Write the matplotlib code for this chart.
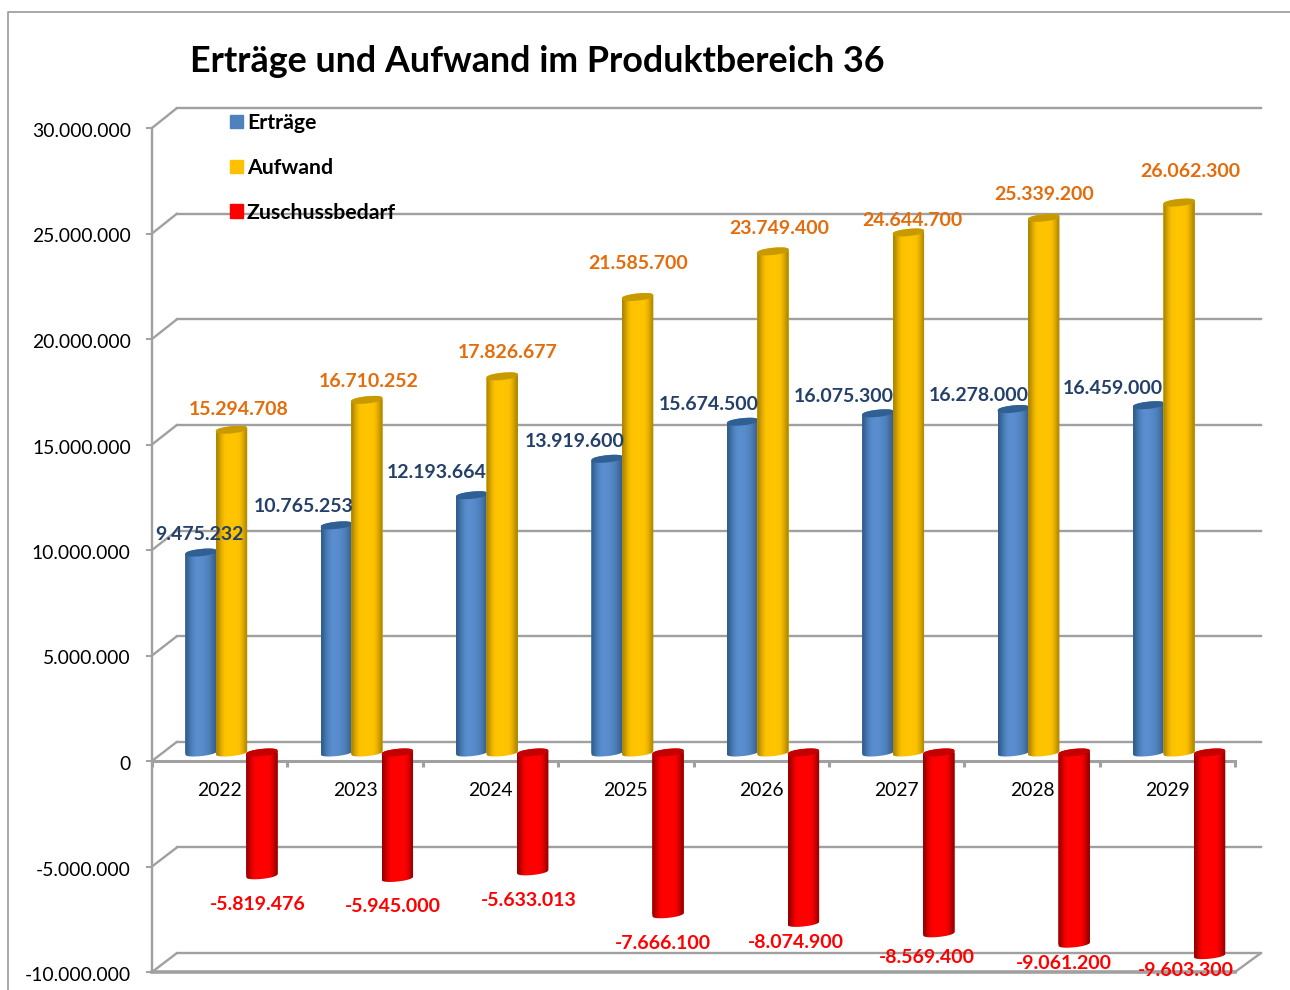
import numpy as np
import matplotlib
matplotlib.use("Agg")
import matplotlib.pyplot as plt
from matplotlib.lines import Line2D
from matplotlib.patches import ConnectionPatch, PathPatch, Patch
from matplotlib.path import Path
from matplotlib.ticker import FuncFormatter
from matplotlib.transforms import ScaledTranslation

years = [2022, 2023, 2024, 2025, 2026, 2027, 2028, 2029]
ertraege = [9475232, 10765253, 12193664, 13919600, 15674500, 16075300, 16278000, 16459000]
aufwand = [15294708, 16710252, 17826677, 21585700, 23749400, 24644700, 25339200, 26062300]
zuschuss = [-5819476, -5945000, -5633013, -7666100, -8074900, -8569400, -9061200, -9603300]
y_ticks = [-10000000, -5000000, 0, 5000000, 10000000, 15000000, 20000000, 25000000, 30000000]

title = "Erträge und Aufwand im Produktbereich 36"

W, H = 1290, 990
plt.rcParams["font.family"] = ["Lato", "DejaVu Sans"]
GRAY = "#a0a0a0"
fig = plt.figure(figsize=(W / 100, H / 100), dpi=100, facecolor="white")


def rect(l, t, r, b):
    return [l / W, 1 - b / H, (r - l) / W, (b - t) / H]


def de(v, _=None):
    return f"{int(v):,}".replace(",", ".")


Y_LIM = (-10000000, 30000000)
X_LIM = (0, len(years))

# back wall
wall = fig.add_axes(rect(177, 108, 1261, 953), facecolor="none", zorder=1)
wall.set_xlim(X_LIM)
wall.set_ylim(Y_LIM)
wall.axis("off")
for v in y_ticks:
    wall.axhline(v, color=GRAY, lw=1.7, clip_on=False)

# front frame with the axes
ax = fig.add_axes(rect(152, 128, 1235, 972), facecolor="none", zorder=2)
ax.set_xlim(X_LIM)
ax.set_ylim(Y_LIM)
for s in ("top", "right"):
    ax.spines[s].set_visible(False)
ax.spines["left"].set_color(GRAY)
ax.spines["left"].set_linewidth(1.7)
ax.spines["bottom"].set_position(("data", 0))
ax.spines["bottom"].set_color(GRAY)
ax.spines["bottom"].set_linewidth(2.2)
ax.axhline(Y_LIM[0], color=GRAY, lw=2.6, clip_on=False)
ax.set_yticks(y_ticks)
ax.yaxis.set_major_formatter(FuncFormatter(de))
ax.tick_params(axis="y", length=4.3, width=1.4, color=GRAY, pad=11, labelsize=13.9, labelcolor="black")
ax.set_xticks(np.arange(len(years) + 1))
ax.set_xticklabels([])
ax.set_xticks(np.arange(len(years)) + 0.5, minor=True)
ax.set_xticklabels([str(y) for y in years], minor=True)
ax.tick_params(axis="x", which="major", length=4.3, width=2.2, color=GRAY)
ax.tick_params(axis="x", which="minor", length=0, pad=15.4, labelsize=13.9, labelcolor="black")
down = ScaledTranslation(0, -2 / 100, fig.dpi_scale_trans)
for lab in ax.get_yticklabels():
    lab.set_transform(lab.get_transform() + down)

# 3D connectors
for v in y_ticks:
    fig.add_artist(ConnectionPatch((0, v), (0, v), coordsA=ax.get_yaxis_transform(),
                                   coordsB=wall.get_yaxis_transform(), color=GRAY, lw=1.7))
fig.add_artist(ConnectionPatch((1, Y_LIM[0]), (1, Y_LIM[0]), coordsA=ax.get_yaxis_transform(),
                               coordsB=wall.get_yaxis_transform(), color=GRAY, lw=1.7))

# cylinders
bars = fig.add_axes(rect(152, 119.5, 1235, 963.5), facecolor="none", zorder=3)
bars.set_xlim(X_LIM)
bars.set_ylim(Y_LIM)
bars.axis("off")

PX_Y = (Y_LIM[1] - Y_LIM[0]) / 844
BAR_W = 0.2325
CAP_B = 3.6 * PX_Y
TILT = 1.6 * PX_Y
U = np.linspace(-1, 1, 61)


def cylinder(x, v, side, cap, z):
    hw = BAR_W / 2
    top, bot = max(v, 0), min(v, 0)
    xs = x + U * hw
    arc = CAP_B * np.abs(1 - U ** 2) ** 0.4
    px = np.r_[xs, xs[::-1]]
    py = np.r_[top + TILT * U + arc, (bot + TILT * U - arc)[::-1]]
    clip = PathPatch(Path(np.c_[px, py]), transform=bars.transData)
    base = bars.bar(x, top - bot, BAR_W, bottom=bot, color=side[len(side) // 2], zorder=z, lw=0)[0]
    base.set_clip_path(clip)
    grad = np.array([matplotlib.colors.to_rgb(c) for c in side])[None, :, :]
    im = bars.imshow(grad, extent=(x - hw, x + hw, bot - 2 * CAP_B, top + 2 * CAP_B), aspect="auto",
                     interpolation="bicubic", zorder=z + 0.1)
    im.set_clip_path(clip)
    bars.fill(np.r_[xs, xs[::-1]],
              np.r_[top + TILT * U + arc, (top + TILT * U - arc)[::-1]],
              color=cap, lw=0, zorder=z + 0.2)


BLUE = ["#325c8c", "#3f6ea4", "#4a7db8", "#5388c8", "#5a8ecf", "#5a8ecf", "#598dcd", "#568aca", "#5386c4",
        "#4f81bc", "#4a79b0", "#3f6b9d", "#365f8d"]
GOLD = ["#ad8600", "#cf9f00", "#eab300", "#fcc200", "#ffc400", "#ffc400", "#ffc400", "#ffc400", "#ffc400",
        "#fcc100", "#ecb400", "#cf9f00", "#ae8700"]
RED = ["#960000", "#c00000", "#e60000", "#fb0000", "#ff0000", "#ff0000", "#ff0000", "#ff0000", "#ff0000",
       "#fb0000", "#e60000", "#c00000", "#940000"]

OFF = (0.362, 0.587, 0.812)
series = [
    (ertraege, BLUE, "#2f5f93", "#24406a", 3, OFF[0],
     [-2, -33, -36, -33, -34, -35, -35, -36], [20.6, 21.4, 25, 19, 19, 19, 16, 19]),
    (aufwand, GOLD, "#c99a00", "#e46c0a", 4, OFF[1],
     [6.5, 1, 4.7, 0, 5.7, 3.3, 0, 10.5], [22, 21, 26, 36, 25, 14.5, 26, 33.6]),
    (zuschuss, RED, "#c40000", "#ff0000", 5, OFF[2],
     [-5, -5.4, -4.8, -5.2, -7.6, -12, -10.4, -23.8], [-26.7, -26, -26.6, -26.7, -17, -21.7, -17.3, -13]),
]
for vals, side, cap, tcol, z, off, dxs, dys in series:
    for i, v in enumerate(vals):
        cylinder(i + off, v, side, cap, z)
        bars.annotate(de(v), (i + off, v), xytext=(dxs[i] + 0.5, dys[i] - 2.2), textcoords="offset pixels",
                      ha="center", va="center", color=tcol, fontsize=14, fontweight="bold",
                      zorder=10, annotation_clip=False)
bars.set_xlim(X_LIM)
bars.set_ylim(Y_LIM)

# title
fig.text(190 / W, 1 - 61 / H, title, fontsize=25.85, fontweight="bold", color="black", ha="left", va="center", zorder=6)

# legend
handles = [Patch(color="#4f81bd"), Patch(color="#ffc000"), Patch(color="#ff0000")]
leg = fig.legend(handles, ["Erträge", "Aufwand", "Zuschussbedarf"], loc="upper left",
                 bbox_to_anchor=(230 / W, 1 - 113 / H), frameon=False,
                 prop={"size": 15.3, "weight": "bold"}, handlelength=0.6, handleheight=0.6,
                 handletextpad=0.2, labelspacing=1.17, borderpad=0, borderaxespad=0)
leg.set_zorder(6)

# outer frame
fig.add_artist(Line2D([8 / W, 8 / W, 1], [0, 1 - 12 / H, 1 - 12 / H], color="#9a9a9a", lw=1.2))

fig.savefig("out.png", dpi=100)
